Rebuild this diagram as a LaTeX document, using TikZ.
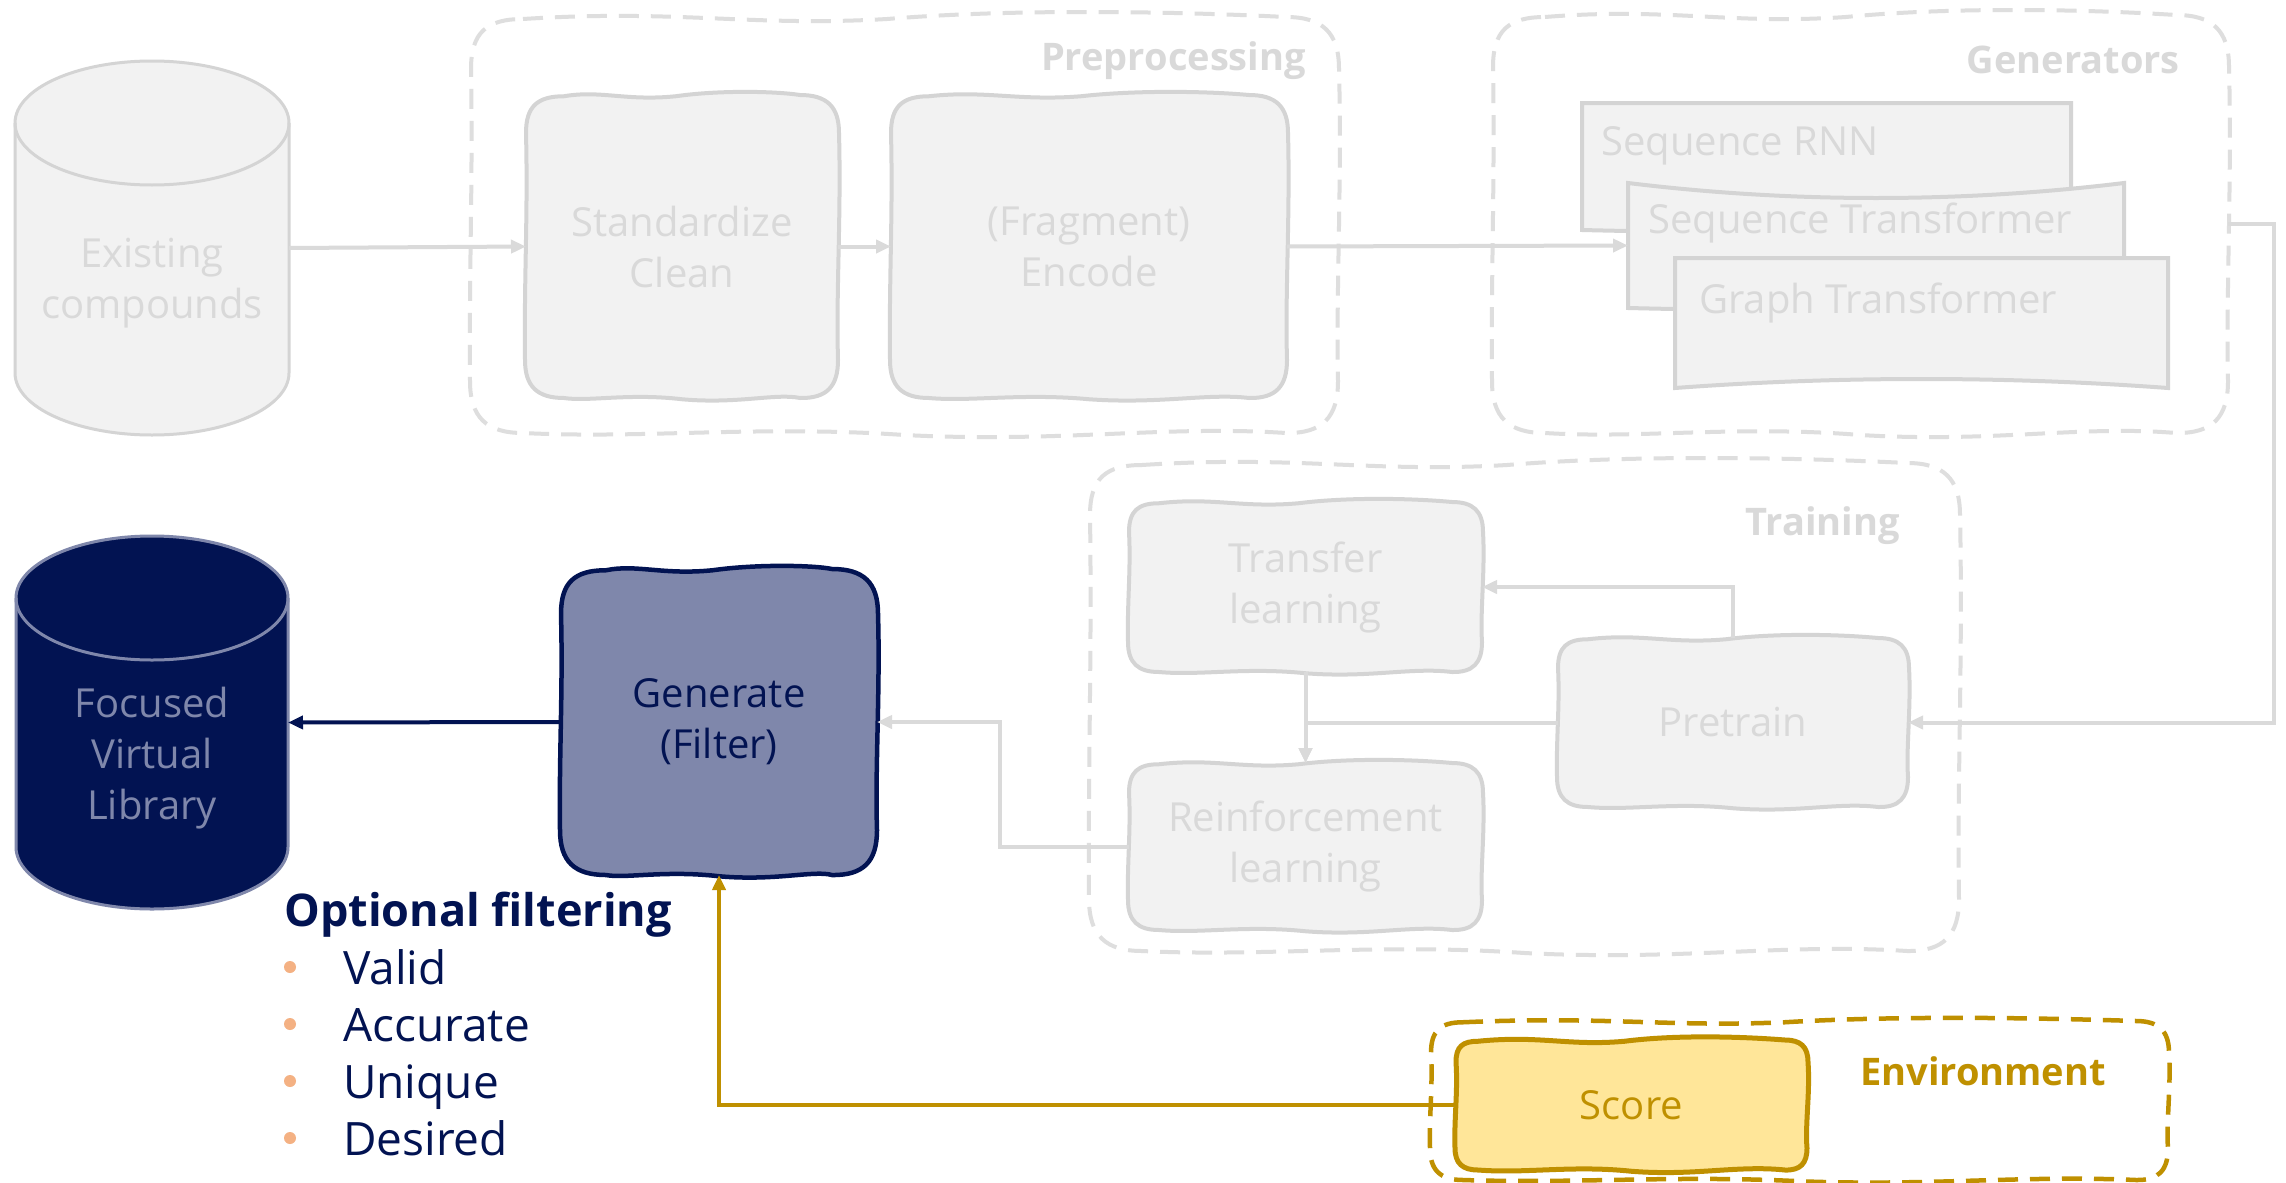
\documentclass[tikz,border=0pt]{standalone}
\usepackage{fontspec}
\setmainfont{Open Sans}
\usetikzlibrary{arrows.meta,calc,backgrounds}
\definecolor{gstroke}{HTML}{D4D4D4}
\definecolor{gfill}{HTML}{F2F2F2}
\definecolor{gtext}{HTML}{D9D9D9}
\definecolor{dashc}{HTML}{DEDEDE}
\definecolor{garr}{HTML}{DADADA}
\definecolor{navy}{HTML}{021352}
\definecolor{lav}{HTML}{7F87AB}
\definecolor{gold}{HTML}{BF9000}
\definecolor{lgold}{HTML}{FFE699}
\definecolor{salmon}{HTML}{F4B183}
% wavy hand-drawn outline around a named node: [style]{node}{corner radius}{wave amplitude}
\newcommand\wavybox[4][]{%
 \draw[#1] let \p1=(#2.north west), \p2=(#2.south east),
   \n1={\x2-\x1}, \n2={\y1-\y2} in
   (\x1+#3pt,\y1-0.5*#4pt)
   .. controls (\x1+0.24*\n1,\y1+2*#4pt) and (\x1+0.32*\n1,\y1-2.5*#4pt) .. (\x1+0.48*\n1,\y1-0.5*#4pt)
   .. controls (\x1+0.62*\n1,\y1+2*#4pt) and (\x1+0.8*\n1,\y1+1.5*#4pt) .. (\x2-#3pt,\y1)
   .. controls (\x2-0.3*#3pt,\y1) and (\x2+1pt,\y1-0.3*#3pt) .. (\x2+1pt,\y1-#3pt)
   .. controls (\x2+0.5*#4pt+2pt,\y1-0.4*\n2) and (\x2-2pt,\y2+0.35*\n2) .. (\x2,\y2+#3pt)
   .. controls (\x2,\y2+0.3*#3pt) and (\x2-0.3*#3pt,\y2-0.5pt) .. (\x2-#3pt,\y2)
   .. controls (\x2-0.2*\n1,\y2+2*#4pt) and (\x2-0.32*\n1,\y2-2.5*#4pt) .. (\x1+0.5*\n1,\y2-0.5*#4pt)
   .. controls (\x1+0.33*\n1,\y2+2*#4pt) and (\x1+0.2*\n1,\y2-1.5*#4pt) .. (\x1+#3pt,\y2)
   .. controls (\x1+0.3*#3pt,\y2) and (\x1-1pt,\y2+0.3*#3pt) .. (\x1-1pt,\y2+#3pt)
   .. controls (\x1-2pt,\y2+0.4*\n2) and (\x1+2pt,\y1-0.4*\n2) .. (\x1,\y1-#3pt)
   .. controls (\x1,\y1-0.3*#3pt) and (\x1+0.3*#3pt,\y1-0.5*#4pt) .. cycle;}
% document shape: [style]{node}{top sag}{bottom sag}
\newcommand\docshape[4][]{%
 \draw[#1] let \p1=(#2.north west), \p2=(#2.south east), \n1={\x2-\x1}, \n3={#3}, \n4={#4} in
   (\x1,\y1) .. controls ({\x1+0.33*\n1},{\y1-\n3*1pt}) and ({\x1+0.67*\n1},{\y1-\n3*1pt}) .. (\x2,\y1)
   -- (\x2,\y2) .. controls ({\x2-0.33*\n1},{\y2-\n4*1pt}) and ({\x1+0.33*\n1},{\y2-\n4*1pt}) .. (\x1,\y2) -- cycle;}
\begin{document}
\begin{tikzpicture}[x=1pt,y=-1pt,
  shp/.style={inner sep=0pt, outer sep=0pt},
  txt/.style={font=\fontsize{40}{51}\selectfont, text=gtext, align=center},
  boxnode/.style={shp, txt},
  contlabel/.style={font=\bfseries\fontsize{38}{46}\selectfont, text=gtext, inner sep=0pt},
  sk/.style={draw=gstroke, fill=gfill, line width=4pt},
  contline/.style={draw=dashc, line width=4pt, dash pattern=on 20pt off 12pt},
  garrow/.style={draw=garr, line width=4pt, -{Triangle[length=15pt,width=13pt]}},
  narrow/.style={draw=navy, line width=4pt, -{Triangle[length=15pt,width=13pt]}},
  goldarrow/.style={draw=gold, line width=4.5pt, -{Triangle[length=15pt,width=13pt]}},
  item/.style={font=\fontsize{46}{57}\selectfont, text=navy, inner sep=0pt, anchor=base west},
  bul/.style={circle, fill=salmon, inner sep=0pt, minimum size=12pt}
]
\useasboundingbox (0,0) rectangle (2286,1183);

% ---------- containers (nodes) ----------
\node[shp, minimum width=867, minimum height=416] (prep) at (904.5,225) {};
\node[shp, minimum width=735, minimum height=418] (gens) at (1860.5,224) {};
\node[shp, minimum width=869, minimum height=488] (train) at (1524.5,707) {};
\node[shp, minimum width=737, minimum height=159] (env) at (1799.5,1100.5) {};
\node[contlabel, anchor=base east] (preplabel) at (1306,70) {Preprocessing};
\node[contlabel, anchor=base east] (genslabel) at (2180,73) {Generators};
\node[contlabel, anchor=base east] (trainlabel) at (1900,535) {Training};
\node[contlabel, text=gold, anchor=base west] (envlabel) at (1860,1085) {Environment};

% ---------- cylinders ----------
\node[shp, minimum width=274, minimum height=374] (ec) at (152,248) {};
\node[txt] (ectext) at (152,283) {Existing\\compounds};
\node[shp, minimum width=272, minimum height=373] (fvl) at (152,722.5) {};
\node[txt, text=lav] (fvltext) at (152,758) {Focused\\Virtual\\Library};

% ---------- process boxes ----------
\node[boxnode, minimum width=312, minimum height=303] (std) at (682,246.5) {Standardize\\Clean};
\node[boxnode, minimum width=396, minimum height=303] (enc) at (1089,246.5) {(Fragment)\\Encode};
\node[boxnode, minimum width=353, minimum height=170] (transfer) at (1305.5,587) {Transfer\\learning};
\node[boxnode, minimum width=350, minimum height=169] (pretrain) at (1733,722.5) {Pretrain};
\node[boxnode, minimum width=353, minimum height=167] (rl) at (1305.5,846.5) {Reinforcement\\learning};
\node[boxnode, text=navy, minimum width=316, minimum height=306] (gen) at (719,722) {Generate\\(Filter)};
\node[boxnode, text=gold, minimum width=351, minimum height=130] (score) at (1631.5,1105) {Score};

% ---------- generators ----------
\node[shp, minimum width=489, minimum height=127] (rnn) at (1826.5,166.5) {};
\node[shp, minimum width=496, minimum height=125] (st) at (1876,245.5) {};
\node[shp, minimum width=493, minimum height=130] (gt) at (1921.5,323) {};
\node[txt, inner sep=0pt, anchor=base west] (rnntext) at (1601,155) {Sequence RNN};
\node[txt, inner sep=0pt, anchor=base west] (sttext) at (1648,233) {Sequence Transformer};
\node[txt, inner sep=0pt, anchor=base west] (gttext) at (1699,313) {Graph Transformer};

% ---------- filtering list ----------
\node[font=\bfseries\fontsize{45}{54}\selectfont, text=navy, inner sep=0pt, anchor=base west] (opt) at (284,926) {Optional filtering};
\node[bul] (b1) at (290,967) {};
\node[bul] (b2) at (290,1024) {};
\node[bul] (b3) at (290,1081) {};
\node[bul] (b4) at (290,1138) {};
\node[item] (i1) at (343,984) {Valid};
\node[item] (i2) at (343,1041) {Accurate};
\node[item] (i3) at (343,1098) {Unique};
\node[item] (i4) at (343,1155) {Desired};

% ---------- shapes behind ----------
\begin{pgfonlayer}{background}
\fill[white] (0,0) rectangle (2286,1183);
\wavybox[contline]{prep}{52}{4}
\wavybox[contline]{gens}{52}{4}
\wavybox[contline]{train}{52}{4}
\wavybox[contline, draw=gold, line width=4.5pt]{env}{32}{2.5}
% cylinders
\draw[sk, line width=3pt] (15,123) -- (15,373) arc[start angle=180,end angle=360,x radius=137pt,y radius=62pt]
   -- (289,123) arc[start angle=0,end angle=180,x radius=137pt,y radius=62pt] -- cycle;
\draw[draw=gstroke, line width=3pt] (15,123) arc[start angle=180,end angle=360,x radius=137pt,y radius=62pt];
\draw[fill=navy, draw=lav, line width=3pt] (16,598) -- (16,847) arc[start angle=180,end angle=360,x radius=136pt,y radius=62pt]
   -- (288,598) arc[start angle=0,end angle=180,x radius=136pt,y radius=62pt] -- cycle;
\draw[draw=lav, line width=3pt] (16,598) arc[start angle=180,end angle=360,x radius=136pt,y radius=62pt];
% boxes
\wavybox[sk]{std}{38}{2.5}
\wavybox[sk]{enc}{38}{2.5}
\wavybox[sk]{transfer}{30}{2.5}
\wavybox[sk]{pretrain}{30}{2.5}
\wavybox[sk]{rl}{30}{2.5}
\wavybox[draw=navy, fill=lav, line width=4.5pt]{gen}{45}{2.5}
\wavybox[draw=gold, fill=lgold, line width=5pt]{score}{22}{2.5}
% generator documents
\docshape[sk]{rnn}{0}{4}
\docshape[sk]{st}{20}{4}
\docshape[sk]{gt}{0}{-12}
\end{pgfonlayer}

% ---------- connectors ----------
\draw[garrow] (ec.east) -- (std.west);
\draw[garrow] (std.east) -- (enc.west);
\draw[garrow] (enc.east) -- (st.west);
\draw[garrow] (gens.east) -- ++(46,0) |- (pretrain.east);
\draw[garrow] (pretrain.north) |- (transfer.east);
\draw[garrow] (transfer.south) -- (rl.north);
\draw[garrow] (pretrain.west) -| (rl.north);
\draw[garrow] (rl.west) -- ++(-129,0) |- (gen.east);
\draw[narrow] (gen.west) -- (fvl.east);
\draw[goldarrow] (score.west) -| (gen.south);
\end{tikzpicture}
\end{document}
